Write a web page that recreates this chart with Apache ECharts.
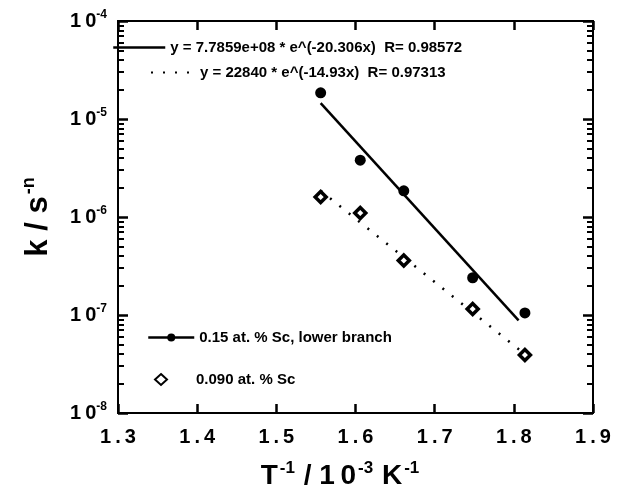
<!DOCTYPE html>
<html>
<head>
<meta charset="utf-8">
<script src="https://cdn.jsdelivr.net/npm/echarts@6/dist/echarts.min.js"></script>
<style>
html, body { margin: 0; background: #fff; }
#chart { width: 628px; height: 501px; }
</style>
</head>
<body>
<div id="chart"></div>
<script>
// data (x in 10^-3 K^-1, k in s^-n)
var invT015 = [1.556, 1.606, 1.661, 1.748, 1.814];
var k015 = [1.85e-5, 3.8e-6, 1.85e-6, 2.4e-7, 1.05e-7];
var invT009 = [1.556, 1.606, 1.661, 1.748, 1.814];
var k009 = [1.6e-6, 1.1e-6, 3.6e-7, 1.15e-7, 3.9e-8];

// fit line ends
var fitSolidX = [1.556, 1.806];
var fitSolidY = [1.45e-5, 8.8e-8];
var fitDotX = [1.556, 1.812];
var fitDotY = [1.85e-6, 4.1e-8];

var yDecades = [-8, -7, -6, -5, -4];

var names = {
    s015: '0.15 at. % Sc, lower branch',
    s009: '0.090 at. % Sc',
    fit1: 'y = 7.7859e+08 * e^(-20.306x)  R= 0.98572',
    fit2: 'y = 22840 * e^(-14.93x)  R= 0.97313'
};

var pairs = function(xs, ys) {
    return xs.map(function(x, i) { return [x, ys[i]]; });
};

// minor log ticks (2..9 per decade), in log10 units for helper axes
var yMinor = [];
for (var e = -8; e < -4; e++) {
    for (var m = 2; m < 10; m++) yMinor.push(e + Math.log(m) / Math.LN10);
}

var font = 'Liberation Sans, Arial, sans-serif';
var black = '#000';

var yLabel = function(v) {
    var p = Math.round(Math.log(v) / Math.LN10);
    return '{m|1\u20090}{s|' + p + '}';
};

var legendBase = function(extra) {
    var o = {
        orient: 'vertical',
        padding: 0,
        itemHeight: 12,
        selectedMode: false,
        textStyle: { fontFamily: font, fontWeight: 'bold', fontSize: 15, color: black }
    };
    for (var k in extra) o[k] = extra[k];
    return o;
};

var chart = echarts.init(document.getElementById('chart'));

var frameLine = function() {
    return { show: true, onZero: false, lineStyle: { color: black, width: 2 } };
};

// helper value axes in log10 units, only for the inward tick marks
var tickAxis = function(pos, values, len, w) {
    return {
        type: 'value',
        position: pos,
        min: -8, max: -4,
        axisLine: frameLine(),
        axisTick: { show: true, inside: true, length: len, customValues: values, lineStyle: { color: black, width: w } },
        splitLine: { show: false },
        axisLabel: { show: false }
    };
};

var option = {
    backgroundColor: '#fff',
    animation: false,
    grid: { left: 118, right: 35, top: 21, bottom: 88 },
    legend: [
        legendBase({ data: [names.fit1], left: 112, top: 40, itemWidth: 52,
            itemStyle: { color: 'rgba(0,0,0,0)', borderWidth: 0 },
            lineStyle: { width: 2.5 } }),
        legendBase({ data: [names.fit2], left: 150, top: 65, itemWidth: 44,
            itemStyle: { color: 'rgba(0,0,0,0)', borderWidth: 0 } }),
        legendBase({ data: [names.s015], left: 147, top: 330, itemWidth: 46, itemHeight: 10,
            lineStyle: { opacity: 1, width: 2.5, color: black } }),
        legendBase({ data: [names.s009], left: 154, top: 372, itemWidth: 12, itemHeight: 11,
            textStyle: { fontFamily: font, fontWeight: 'bold', fontSize: 15, color: black, padding: [0, 0, 0, 24] } })
    ],
    xAxis: [{
        type: 'value',
        min: 1.3, max: 1.9, interval: 0.1,
        axisLine: frameLine(),
        axisTick: { show: true, inside: true, length: 9, lineStyle: { color: black, width: 2.5 } },
        splitLine: { show: false },
        axisLabel: {
            margin: 14,
            color: black, fontFamily: font, fontWeight: 'bold', fontSize: 20,
            formatter: function(v) { return v.toFixed(1).split('').join('\u2009'); }
        },
        name: '{a|T}{s|-1}{a| / 1\u20090}{s|-3}{a| K}{s|-1}',
        nameLocation: 'middle',
        nameGap: 47,
        nameTextStyle: {
            padding: [0, 30, 0, 0],
            rich: {
                a: { fontFamily: font, fontWeight: 'bold', fontSize: 28, color: black, lineHeight: 32 },
                s: { fontFamily: font, fontWeight: 'bold', fontSize: 17, color: black, verticalAlign: 'top', lineHeight: 32, padding: [0, 1, 0, 2] }
            }
        }
    }, {
        type: 'value',
        position: 'top',
        min: 1.3, max: 1.9, interval: 0.1,
        axisLine: frameLine(),
        axisTick: { show: true, inside: true, length: 9, lineStyle: { color: black, width: 2.5 } },
        splitLine: { show: false },
        axisLabel: { show: false }
    }],
    yAxis: [{
        type: 'log',
        min: 1e-8, max: 1e-4,
        axisLine: frameLine(),
        axisTick: { show: false },
        splitLine: { show: false },
        minorSplitLine: { show: false },
        axisLabel: {
            margin: 11,
            formatter: yLabel,
            rich: {
                m: { fontFamily: font, fontWeight: 'bold', fontSize: 20, color: black, lineHeight: 24 },
                s: { fontFamily: font, fontWeight: 'bold', fontSize: 12, color: black, verticalAlign: 'top', lineHeight: 24 }
            }
        },
        name: '{a|k / s}{s|-n}',
        nameLocation: 'middle',
        nameGap: 62,
        nameTextStyle: {
            rich: {
                a: { fontFamily: font, fontWeight: 'bold', fontSize: 31, color: black, lineHeight: 36 },
                s: { fontFamily: font, fontWeight: 'bold', fontSize: 18, color: black, verticalAlign: 'top', lineHeight: 36, padding: [0, 0, 0, 2] }
            }
        }
    }, {
        type: 'log',
        position: 'right',
        min: 1e-8, max: 1e-4,
        axisLine: frameLine(),
        axisTick: { show: false },
        splitLine: { show: false },
        axisLabel: { show: false }
    },
        tickAxis('left', yDecades, 10, 2.5),
        tickAxis('left', yMinor, 6, 2),
        tickAxis('right', yDecades, 10, 2.5),
        tickAxis('right', yMinor, 6, 2)
    ],
    series: [{
        name: names.fit1,
        type: 'line',
        data: pairs(fitSolidX, fitSolidY),
        symbol: 'none',
        lineStyle: { color: black, width: 2.5 },
        itemStyle: { color: black },
        z: 2
    }, {
        name: names.fit2,
        type: 'line',
        data: pairs(fitDotX, fitDotY),
        symbol: 'none',
        lineStyle: { color: black, width: 2.5, type: [2, 10] },
        itemStyle: { color: black },
        z: 2
    }, {
        name: names.s015,
        type: 'line',
        data: pairs(invT015, k015),
        symbol: 'circle',
        symbolSize: 11,
        showAllSymbol: true,
        lineStyle: { opacity: 0 },
        itemStyle: { color: black },
        z: 3
    }, {
        name: names.s009,
        type: 'scatter',
        data: pairs(invT009, k009),
        symbol: 'diamond',
        symbolSize: 11,
        itemStyle: { color: '#fff', borderColor: black, borderWidth: 3.5, opacity: 1 },
        z: 3
    }]
};

chart.setOption(option);
</script>
</body>
</html>
